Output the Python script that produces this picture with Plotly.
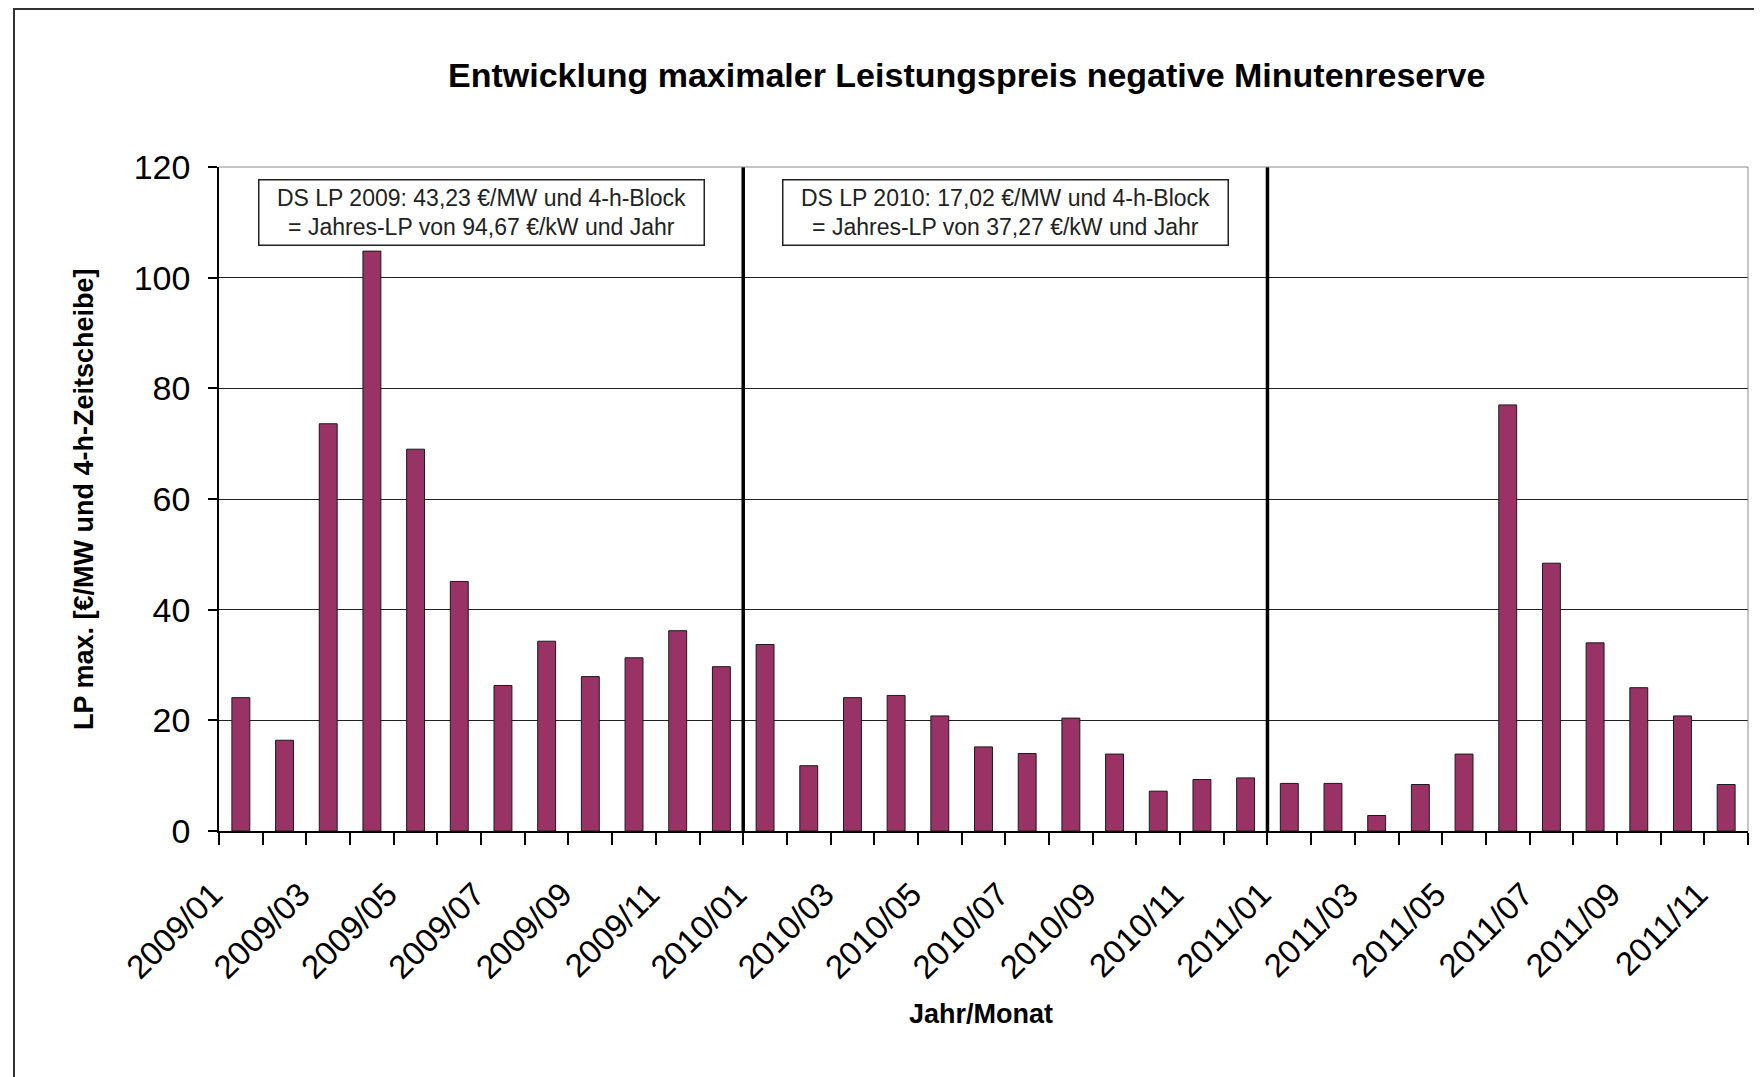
import plotly.graph_objects as go

months = [
    "2009/01", "2009/02", "2009/03", "2009/04", "2009/05", "2009/06",
    "2009/07", "2009/08", "2009/09", "2009/10", "2009/11", "2009/12",
    "2010/01", "2010/02", "2010/03", "2010/04", "2010/05", "2010/06",
    "2010/07", "2010/08", "2010/09", "2010/10", "2010/11", "2010/12",
    "2011/01", "2011/02", "2011/03", "2011/04", "2011/05", "2011/06",
    "2011/07", "2011/08", "2011/09", "2011/10", "2011/11",
]
lp_max = [
    24.1, 16.4, 73.6, 104.8, 69.0, 45.1, 26.3, 34.3, 27.9, 31.3, 36.2, 29.7,
    33.7, 11.8, 24.1, 24.5, 20.8, 15.2, 14.0, 20.4, 13.9, 7.2, 9.3, 9.6,
    8.6, 8.6, 2.8, 8.4, 13.9, 77.0, 48.4, 34.0, 25.9, 20.8, 8.4,
]
y_ticks = [0, 20, 40, 60, 80, 100, 120]
box_texts = {
    "2009": "DS LP 2009: 43,23 €/MW und 4-h-Block<br>= Jahres-LP von 94,67 €/kW und Jahr",
    "2010": "DS LP 2010: 17,02 €/MW und 4-h-Block<br>= Jahres-LP von 37,27 €/kW und Jahr",
}
title_text = "Entwicklung maximaler Leistungspreis negative Minutenreserve"
x_title = "Jahr/Monat"
y_title = "LP max. [€/MW und 4-h-Zeitscheibe]"

FONT = "Liberation Sans, Arial, sans-serif"
idx = list(range(len(months)))
years = [m[:4] for m in months]

fig = go.Figure()
fig.add_trace(go.Bar(
    x=idx, y=lp_max,
    marker=dict(color="#993366", line=dict(color="#1a1a1a", width=1)),
    hoverinfo="x+y",
))

# year separators (boundary before first month of each new year)
for i in range(1, len(months)):
    if years[i] != years[i - 1]:
        fig.add_shape(type="line", xref="x", yref="y", x0=i - 0.5, x1=i - 0.5,
                      y0=0, y1=y_ticks[-1], line=dict(color="black", width=3.5), layer="above")

# plot area top/right grey border
fig.add_shape(type="line", xref="paper", yref="paper", x0=0, x1=1, y0=1, y1=1,
              line=dict(color="#8a8a8a", width=1), layer="above")
fig.add_shape(type="line", xref="paper", yref="paper", x0=1, x1=1, y0=0, y1=1,
              line=dict(color="#8a8a8a", width=1), layer="above")

# outer chart border
fig.add_shape(type="rect", xref="paper", yref="paper",
              x0=(14 - 219) / 1529, x1=1.05, y0=-0.5, y1=(831 - 9) / 664,
              line=dict(color="#333333", width=2), layer="above")

# info boxes centered in each year
for yr, txt in box_texts.items():
    positions = [i for i, y in enumerate(years) if y == yr]
    cx = (positions[0] + positions[-1]) / 2
    fig.add_annotation(
        x=cx, y=111.8, xref="x", yref="y", text=txt, showarrow=False,
        font=dict(family=FONT, size=23, color="#222222"),
        bordercolor="#222222", borderwidth=1.5, borderpad=1,
        bgcolor="white", width=442, height=62, align="center",
    )

fig.add_annotation(x=0.4886, y=1.1386, xref="paper", yref="paper", text="<b>" + title_text + "</b>",
                   showarrow=False, font=dict(family=FONT, size=34, color="black"),
                   xanchor="center", yanchor="middle")
fig.add_annotation(x=0.4985, y=-0.2756, xref="paper", yref="paper", text="<b>" + x_title + "</b>",
                   showarrow=False, font=dict(family=FONT, size=27, color="black"),
                   xanchor="center", yanchor="middle")
fig.add_annotation(x=-0.0883, y=0.5, xref="paper", yref="paper", text="<b>" + y_title + "</b>",
                   showarrow=False, textangle=-90, font=dict(family=FONT, size=27, color="black"),
                   xanchor="center", yanchor="middle")

fig.update_layout(
    width=1762, height=1077,
    margin=dict(l=211, r=22, t=159, b=254, autoexpand=False),
    paper_bgcolor="white", plot_bgcolor="white",
    showlegend=False, bargap=0.59,
    font=dict(family=FONT, color="black"),
)
fig.update_xaxes(
    range=[-0.5, len(months) - 0.5],
    tickmode="array", tickvals=idx[::2], ticktext=months[::2],
    tickangle=-45, tickfont=dict(family=FONT, size=33, color="black"),
    ticks="", ticklen=12, showgrid=False, zeroline=False,
    showline=True, linecolor="black", linewidth=1.5,
    ticklabelshift=-28, ticklabelstandoff=29,
    minor=dict(ticks="outside", ticklen=12, tickcolor="black", tickwidth=1.5,
               tick0=-0.5, dtick=1, showgrid=False),
)
fig.update_yaxes(
    range=[0, y_ticks[-1]], tickmode="array", tickvals=y_ticks,
    tickfont=dict(family=FONT, size=34, color="black"),
    ticks="outside", ticklen=9, tickcolor="black", tickwidth=1.5,
    showline=True, linecolor="black", linewidth=1.5,
    showgrid=True, gridcolor="#222222", gridwidth=1, zeroline=False,
    ticklabelstandoff=11,
)

fig.write_html("out.html")
